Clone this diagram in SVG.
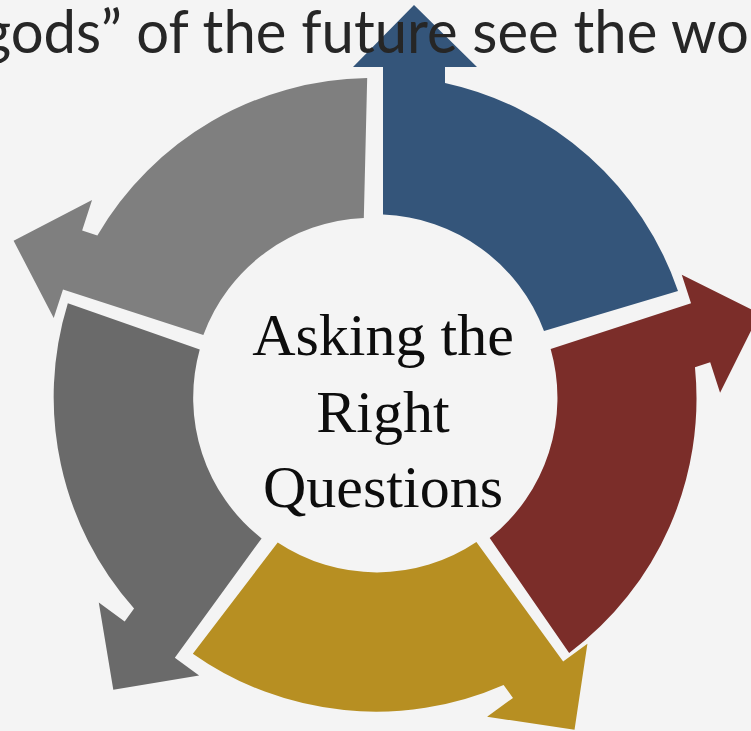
<svg xmlns="http://www.w3.org/2000/svg" width="751" height="731" viewBox="0 0 751 731">
<style>
.title{font-family:Lato,"Open Sans","Liberation Sans",sans-serif;font-size:60px;fill:#262626}
.center{font-family:"Liberation Serif","DejaVu Serif",serif;font-size:60px;fill:#0d0d0d;text-anchor:middle}
</style>
<defs>
<path id="seg" d="M383 214.6 L383 67 L353 67 L414 5 L477 67 L445 67 L445 83 A318 318 0 0 1 678 291 L544 331 A179 179 0 0 0 383 214.6 Z"/>
</defs>
<rect width="751" height="731" fill="#f4f4f4"/>
<g id="segments">
<g id="seg-blue"><use href="#seg" fill="#34557A"/></g>
<g id="seg-red" transform="translate(2 4.5)"><use href="#seg" fill="#7B2D29" transform="rotate(72 376.5 393.5)"/></g>
<g id="seg-gold"><use href="#seg" fill="#B78F22" transform="rotate(144 376.5 393.5)"/></g>
<g id="seg-darkgray" transform="translate(-4.5 4)"><use href="#seg" fill="#6A6A6A" transform="rotate(216 376.5 393.5)"/></g>
<g id="seg-gray" transform="translate(-5 3)"><use href="#seg" fill="#7F7F7F" transform="rotate(288 376.5 393.5)"/></g>
</g>
<g id="title"><text class="title" x="-19" y="53" textLength="768" lengthAdjust="spacingAndGlyphs">gods” of the future see the wo</text></g>
<g id="center-label">
<text class="center" x="383" y="355">Asking the</text>
<text class="center" x="383" y="432">Right</text>
<text class="center" x="383" y="507">Questions</text>
</g>
</svg>
